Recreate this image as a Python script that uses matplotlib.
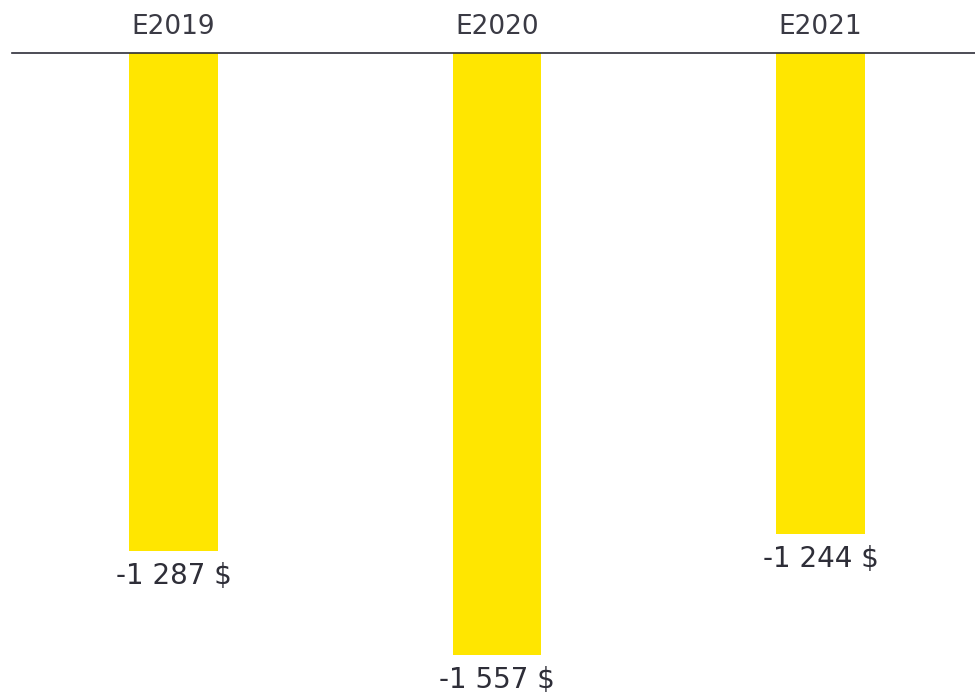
import matplotlib.pyplot as plt

# ====== DATA =======
years = ["E2019", "E2020", "E2021"]
values = [-1287, -1557, -1244]
labels = ["-1 287 $", "-1 557 $", "-1 244 $"]

YELLOW = "#ffe600"
DARK = "#2e2e38"

fig = plt.figure(figsize=(9.75, 6.94), dpi=100)
# axes from x=12px to right edge, top at y=53px to bottom of figure
ax = fig.add_axes([12 / 975, 0, 1 - 12 / 975, 1 - 53 / 694])

x = list(range(len(years)))
ax.bar(x, values, width=0.275, color=YELLOW)

px_per_unit = 498 / 1287
ax.set_ylim(-641 / px_per_unit, 0)
ax.set_xlim((12 - 173.5) / 323.5, (975 - 173.5) / 323.5)

ax.axhline(0, color=DARK, lw=1.2, clip_on=False)

for i, (v, lab, yr) in enumerate(zip(values, labels, years)):
    ax.annotate(lab, (i, v), xytext=(0, -25), textcoords="offset pixels",
                ha="center", va="center", fontsize=20, color=DARK,
                annotation_clip=False)
    ax.annotate(yr, (i, 0), xytext=(0, 26), textcoords="offset pixels",
                ha="center", va="center", fontsize=19, color="#3a3a44",
                annotation_clip=False)

ax.axis("off")
fig.savefig("out.png", dpi=100)
